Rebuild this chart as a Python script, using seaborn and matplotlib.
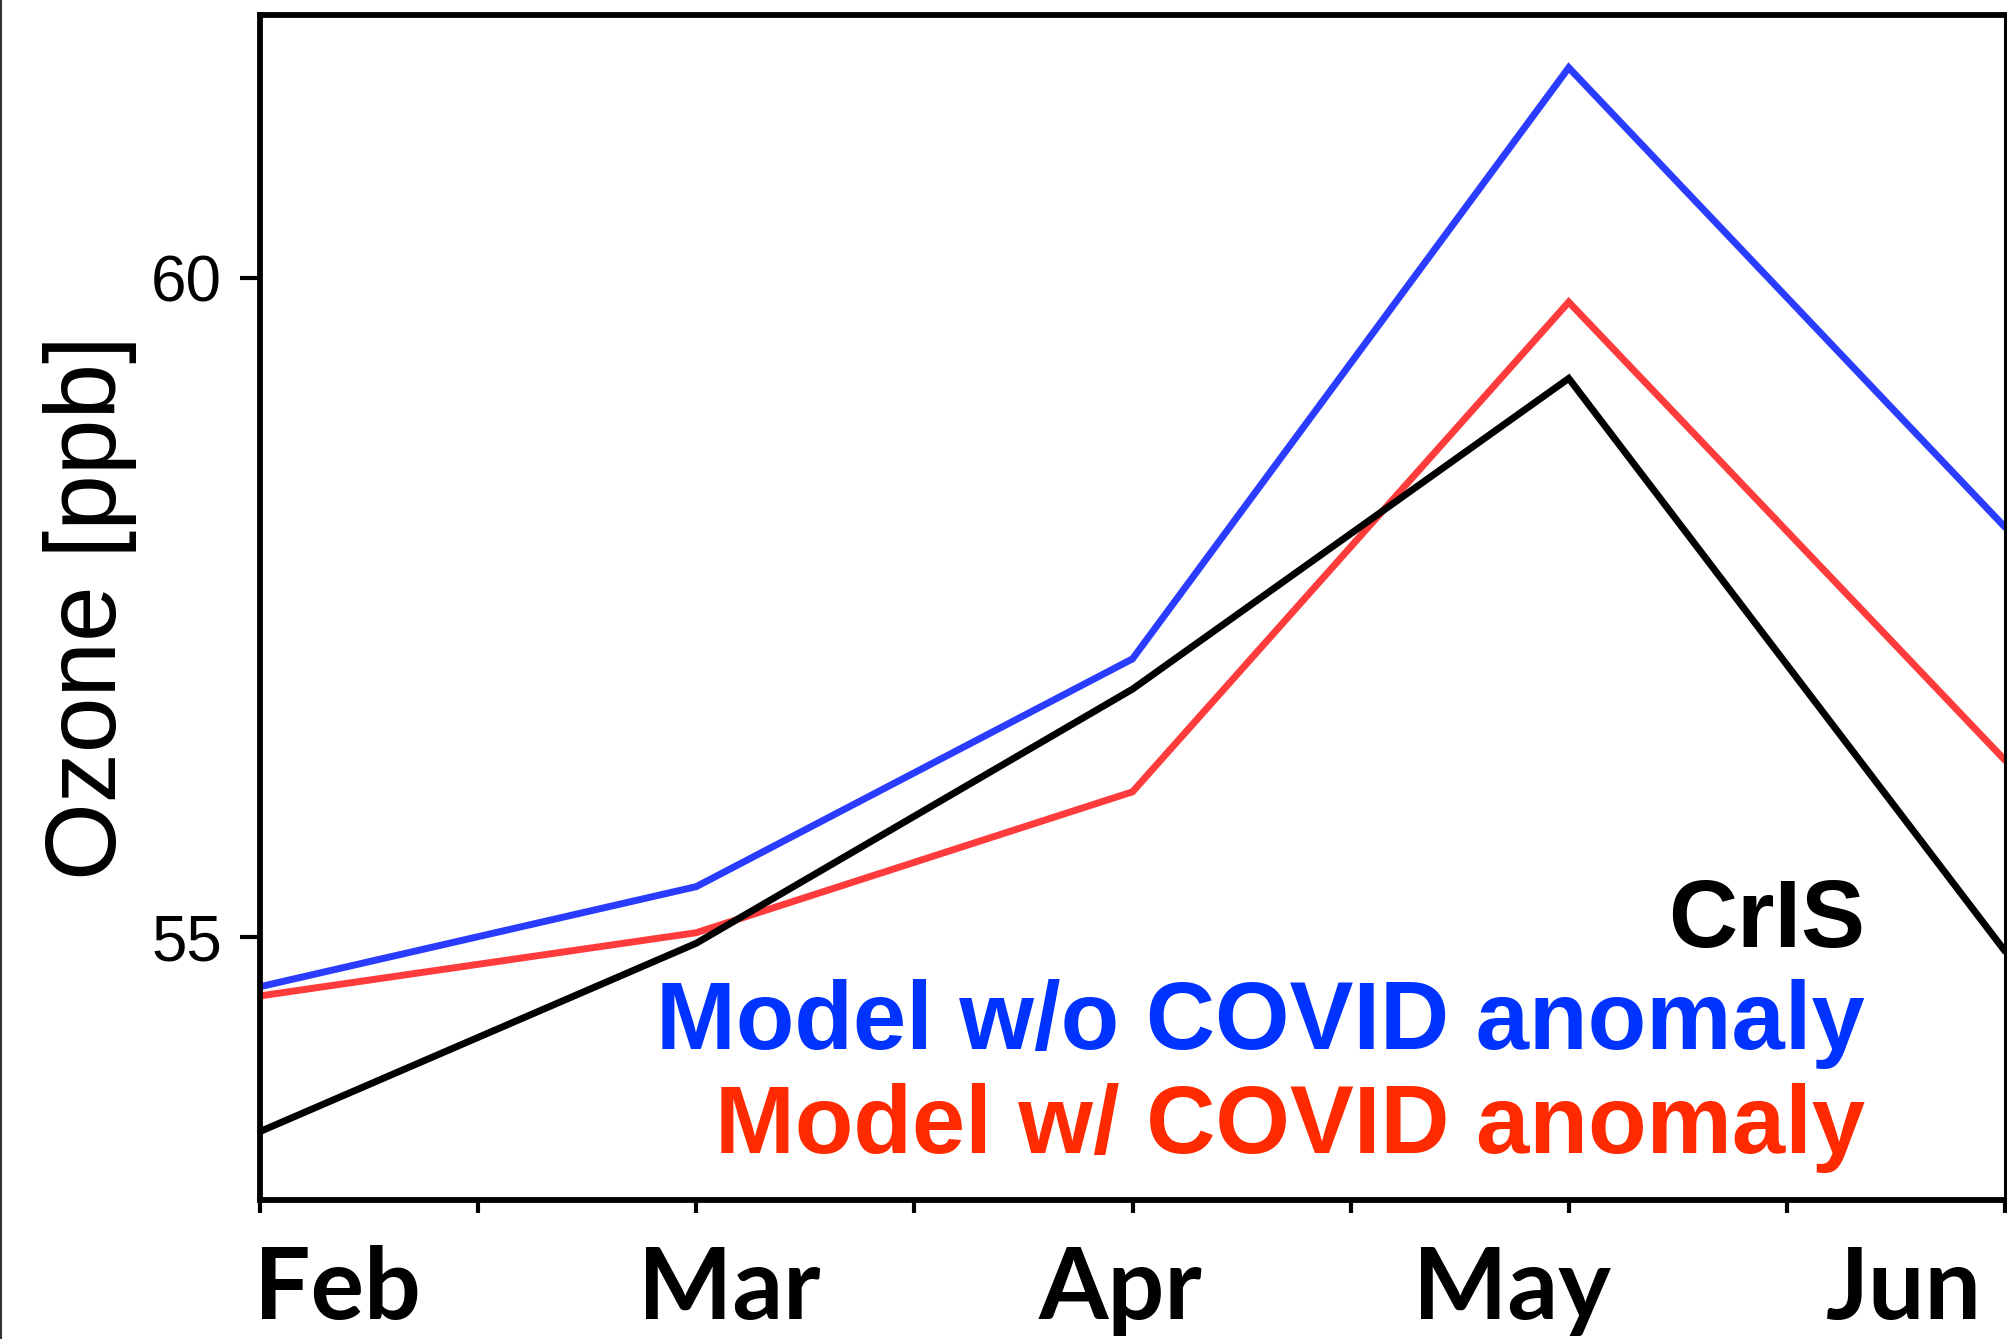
import matplotlib
matplotlib.use("Agg")
import matplotlib.pyplot as plt
import matplotlib.transforms as mtransforms
from matplotlib.lines import Line2D
import numpy as np
import pandas as pd
import seaborn as sns

# ---- data ----
months = ["Feb", "Mar", "Apr", "May", "Jun"]
crIS = [53.52, 54.95, 56.88, 59.24, 54.89]
model_no_covid = [54.62, 55.38, 57.11, 61.60, 58.11]
model_covid = [54.55, 55.03, 56.10, 59.82, 56.34]
series_names = ["CrIS", "Model w/o COVID anomaly", "Model w/ COVID anomaly"]
yticks = [55, 60]

line_colors = {"CrIS": "#000000",
               "Model w/o COVID anomaly": "#2a3cff",
               "Model w/ COVID anomaly": "#ff3b3b"}
text_colors = {"CrIS": "#000000",
               "Model w/o COVID anomaly": "#0033ff",
               "Model w/ COVID anomaly": "#ff2a00"}

rows = []
for name, vals in zip(series_names, [crIS, model_no_covid, model_covid]):
    for i, v in enumerate(vals):
        rows.append({"pos": i, "month": months[i], "ozone": v, "series": name})
df = pd.DataFrame(rows)

sns.set_theme(style="white")
plt.rcParams["font.family"] = ["Liberation Sans", "DejaVu Sans"]
plt.rcParams["lines.linewidth"] = 5.0

fig = plt.figure(figsize=(20.07, 13.39), dpi=100)
ax = fig.add_axes([260 / 2007, 1 - 1200 / 1339, 1745 / 2007, 1185 / 1339])

sns.lineplot(data=df, x="pos", y="ozone", hue="series",
             hue_order=["Model w/o COVID anomaly", "Model w/ COVID anomaly", "CrIS"],
             palette=line_colors, legend=False, ax=ax, lw=5.0,
             sort=True, estimator=None)
for ln in ax.get_lines():
    ln.set_linewidth(5.0)
    ln.set_solid_joinstyle("miter")

ax.set_xlim(0, len(months) - 1)
ax.set_ylim(53, 62)
ax.set_xlabel("")
ax.set_ylabel("")

# spines
for s in ["left", "top", "bottom"]:
    ax.spines[s].set_linewidth(4.2)
    ax.spines[s].set_color("black")
ax.spines["right"].set_linewidth(2.2)
ax.spines["right"].set_color("black")

# y ticks
ax.set_yticks(yticks)
ax.set_yticklabels([str(t) for t in yticks],
                   fontfamily=["Liberation Sans Narrow", "Liberation Sans"],
                   fontsize=46)
ax.tick_params(axis="y", direction="out", length=14.5, width=3.0, pad=13,
               colors="black", left=True)

# x ticks: months + mid-month minor ticks, labels drawn as text below
ax.set_xticks(np.arange(len(months)))
ax.set_xticklabels([])
ax.set_xticks(np.arange(len(months) - 1) + 0.5, minor=True)
ax.tick_params(axis="x", which="both", direction="out", length=9, width=3.0,
               bottom=True, colors="black")

trans = mtransforms.blended_transform_factory(ax.transAxes, ax.transAxes)
label_x0, label_dx = 0.0444, 0.2244
for i, m in enumerate(months):
    ax.text(label_x0 + label_dx * i, -0.1004, m, transform=trans,
            ha="center", va="baseline", fontsize=72, fontweight="bold",
            fontfamily=["Lato", "Open Sans", "DejaVu Sans"], color="black",
            clip_on=False)

# y label
fig.text(0.045, 1 - 608 / 1339, "Ozone [ppb]", rotation=90, ha="center",
         va="center", fontsize=72, color="black")

# legend-like labels
leg_y = {"CrIS": 0.2135, "Model w/o COVID anomaly": 0.1274,
         "Model w/ COVID anomaly": 0.0397}
for name in series_names:
    ax.text(0.9198, leg_y[name], name, transform=ax.transAxes, ha="right",
            va="baseline", fontsize=69, fontweight="bold",
            color=text_colors[name])

# thin border line at figure left edge
fig.add_artist(Line2D([0.0007, 0.0007], [0, 1], transform=fig.transFigure,
                      color="#333333", linewidth=1.5))

fig.savefig("out.png", dpi=100, facecolor="white")
